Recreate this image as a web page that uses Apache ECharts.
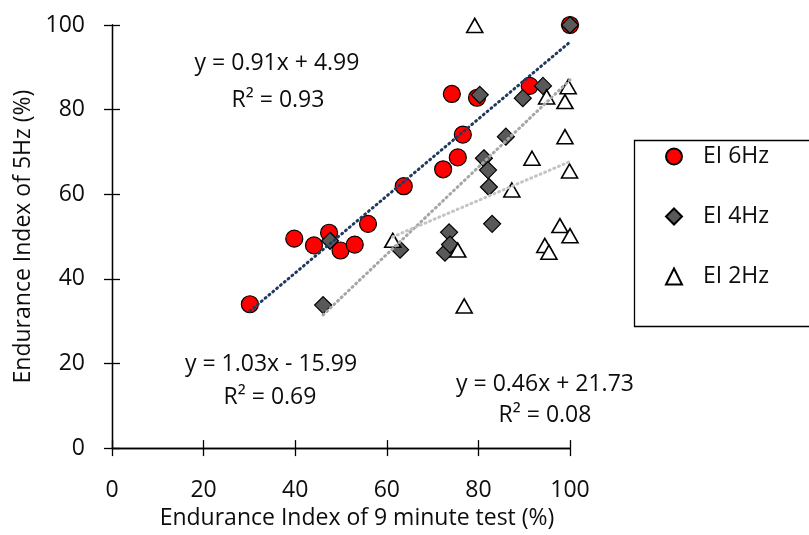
<!DOCTYPE html>
<html>
<head>
<meta charset="utf-8">
<script src="https://cdn.jsdelivr.net/npm/echarts@6/dist/echarts.min.js"></script>
<style>
    html, body {margin:0;padding:0;background:#fff}
    #chart {width:809px;height:535px}
</style>
</head>
<body>
<div id="chart"></div>
<script>
    // 数据 (x = 9 minute test, y = 5Hz)
    var seriesNames = ['EI 6Hz', 'EI 4Hz', 'EI 2Hz'];
    var ei6X = [30.1, 39.8, 44.1, 47.4, 49.9, 53.0, 55.9, 63.7, 72.3, 75.5, 76.6, 74.2, 79.7, 91.2, 100];
    var ei6Y = [34.0, 49.5, 47.9, 50.9, 46.7, 48.1, 53.0, 61.9, 65.9, 68.7, 74.1, 83.7, 82.8, 85.6, 100];
    var ei4X = [46.1, 47.6, 62.9, 72.7, 73.6, 73.8, 81.2, 82.1, 82.3, 83.0, 86.0, 80.3, 89.7, 94.1, 100];
    var ei4Y = [33.8, 49.0, 46.9, 46.2, 51.0, 48.1, 68.5, 65.7, 61.7, 53.0, 73.6, 83.5, 82.7, 85.6, 100];
    var ei2X = [61.3, 75.5, 76.9, 79.2, 87.3, 91.7, 94.5, 95.4, 97.8, 98.9, 98.9, 94.9, 99.6, 99.9, 100];
    var ei2Y = [49.1, 46.8, 33.6, 99.9, 61.0, 68.5, 47.9, 46.3, 52.6, 73.6, 81.9, 83.0, 85.4, 65.5, 50.2];

    // 线性趋势线
    var trendSlope = [0.91, 1.03, 0.46];
    var trendIntercept = [4.99, -15.99, 21.73];
    var trendXRange = [[30.1, 100], [46.1, 100], [61.3, 100]];
    var trendLabels = [
        ['y = 0.91x + 4.99', 'R\u00b2 = 0.93'],
        ['y = 1.03x - 15.99', 'R\u00b2 = 0.69'],
        ['y = 0.46x + 21.73', 'R\u00b2 = 0.08']
    ];

    var FONT = 'Open Sans';
    var FS = 23;
    var TXT = '#0d0d0d';

    function pairs(xs, ys) {
        return xs.map(function (x, i) { return [x, ys[i]]; });
    }
    function trendLine(i) {
        return trendXRange[i].map(function (x) {
            return [x, trendSlope[i] * x + trendIntercept[i]];
        });
    }
    function note(text, x, y) {
        return {type: 'text', x: x, y: y, silent: true,
            style: {text: text, fill: TXT, font: FS + 'px "Open Sans"', align: 'center', verticalAlign: 'middle'}};
    }

    var chart = echarts.init(document.getElementById('chart'), null, {renderer: 'canvas'});

    var axisCommon = {
        type: 'value',
        min: 0,
        max: 100,
        interval: 20,
        splitLine: {show: false},
        axisLine: {show: true, onZero: false, lineStyle: {color: '#000', width: 1.3}},
        axisTick: {show: true, length: 8, lineStyle: {color: '#000', width: 1.3}},
        axisLabel: {color: TXT, fontFamily: FONT, fontSize: FS}
    };

    var option = {
        backgroundColor: '#fff',
        animation: false,
        grid: {left: 112, right: 239, top: 25, bottom: 82},
        xAxis: [
            echarts.util.merge({
                name: 'Endurance Index of 9 minute test (%)',
                nameLocation: 'middle',
                nameGap: 57,
                nameTextStyle: {color: TXT, fontFamily: FONT, fontSize: FS, padding: [0, 0, 0, 32]},
                axisLabel: {margin: 31}
            }, axisCommon, false),
            echarts.util.merge({
                position: 'bottom',
                axisLabel: {show: false},
                axisTick: {inside: true}
            }, axisCommon, false)
        ],
        yAxis: [
            echarts.util.merge({
                name: 'Endurance Index of 5Hz (%)',
                nameLocation: 'middle',
                nameGap: 64,
                nameTextStyle: {color: TXT, fontFamily: FONT, fontSize: FS, padding: [0, 0, 12, 0]},
                axisLabel: {margin: 27}
            }, axisCommon, false),
            echarts.util.merge({
                position: 'left',
                axisLabel: {show: false},
                axisTick: {inside: true}
            }, axisCommon, false)
        ],
        legend: {
            orient: 'vertical',
            left: 660,
            top: 140,
            itemGap: 37,
            itemWidth: 16,
            itemHeight: 16,
            textStyle: {color: TXT, fontFamily: FONT, fontSize: FS, padding: [0, 0, 0, 16]},
            data: [
                {name: seriesNames[0], icon: 'circle'},
                {name: seriesNames[1], icon: 'diamond'},
                {name: seriesNames[2], icon: 'triangle'}
            ]
        },
        graphic: [
            {type: 'rect', left: 632, top: 138, shape: {width: 190, height: 186},
                style: {fill: 'none', stroke: '#000', lineWidth: 1.3}, silent: true},
            note(trendLabels[0][0], 277, 63),
            note(trendLabels[0][1], 278, 100),
            note(trendLabels[1][0], 271, 364),
            note(trendLabels[1][1], 270, 397),
            note(trendLabels[2][0], 545, 384),
            note(trendLabels[2][1], 545, 415)
        ],
        series: [
            {
                name: seriesNames[0], type: 'scatter', symbol: 'circle', symbolSize: 17, z: 2,
                itemStyle: {color: '#ff0000', borderColor: '#000', borderWidth: 1.2, opacity: 1},
                data: pairs(ei6X, ei6Y)
            },
            {
                name: seriesNames[1], type: 'scatter', symbol: 'diamond', symbolSize: [17, 17], z: 3,
                itemStyle: {color: '#595959', borderColor: '#000', borderWidth: 1.2, opacity: 1},
                data: pairs(ei4X, ei4Y)
            },
            {
                name: seriesNames[2], type: 'scatter', symbol: 'triangle', symbolSize: [16, 14], z: 4,
                itemStyle: {color: '#fff', borderColor: '#000', borderWidth: 1.6, opacity: 1},
                data: pairs(ei2X, ei2Y)
            },
            {
                type: 'line', data: trendLine(0), symbol: 'none', z: 5, silent: true,
                lineStyle: {color: '#1f3a60', width: 3, type: [1, 4], cap: 'round'}
            },
            {
                type: 'line', data: trendLine(1), symbol: 'none', z: 5, silent: true,
                lineStyle: {color: '#a6a6a6', width: 3, type: [1, 4], cap: 'round'}
            },
            {
                type: 'line', data: trendLine(2), symbol: 'none', z: 5, silent: true,
                lineStyle: {color: '#c4c4c4', width: 3, type: [1, 4], cap: 'round'}
            }
        ]
    };

    chart.setOption(option);
</script>
</body>
</html>
